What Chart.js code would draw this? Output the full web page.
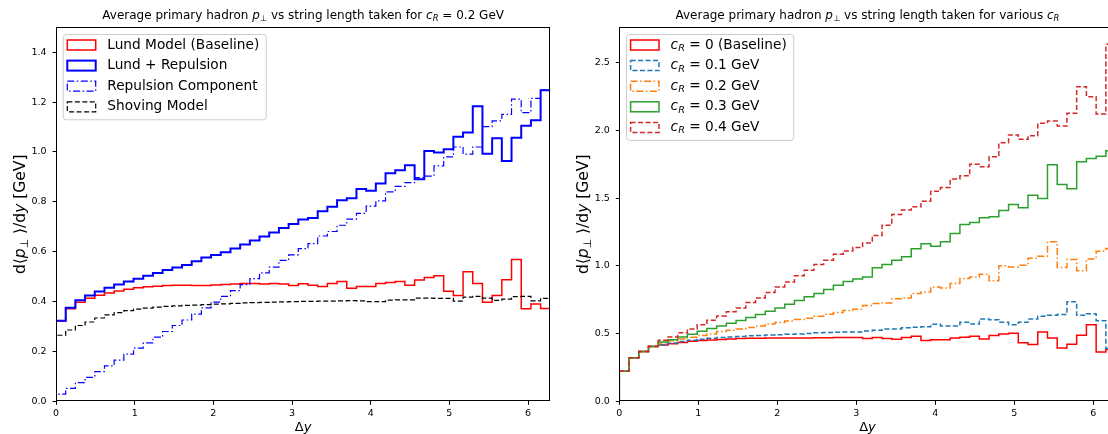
<!DOCTYPE html>
<html lang="en">
<head>
  <meta charset="utf-8">
  <title>Average primary hadron pT vs string length</title>
  <script src="https://cdn.jsdelivr.net/npm/chart.js@4.4.1/dist/chart.umd.min.js"></script>
  <style>
    html, body { margin: 0; padding: 0; overflow: hidden; background: #fff; }
    .figure { position: relative; width: 1108px; height: 434px; overflow: hidden; }
    canvas { position: absolute; top: 0; }
    #chart-left { left: 0; }
    #chart-right { left: 560px; }
  </style>
</head>
<body>
  <div class="figure">
    <canvas id="chart-left" width="560" height="434"></canvas>
    <canvas id="chart-right" width="562" height="434"></canvas>
  </div>

  <script>
    // 51 bins spanning 0 .. 2pi in Delta y
    const binCount = 51;
    const xTicks = [0, 1, 2, 3, 4, 5, 6];
    const yTicksLeft = [0, 0.2, 0.4, 0.6, 0.8, 1.0, 1.2, 1.4];
    const yTicksRight = [0, 0.5, 1.0, 1.5, 2.0, 2.5];

    // left panel: c_R = 0.2 GeV
    const labelsLeft = ['Lund Model (Baseline)', 'Lund + Repulsion', 'Repulsion Component', 'Shoving Model'];
    const lundBaseline = [
      0.322, 0.371, 0.397, 0.413, 0.425, 0.434, 0.442, 0.449, 0.455, 0.459,
      0.461, 0.464, 0.465, 0.465, 0.464, 0.464, 0.466, 0.468, 0.470, 0.472,
      0.472, 0.470, 0.472, 0.470, 0.464, 0.471, 0.465, 0.460, 0.472, 0.480,
      0.453, 0.460, 0.460, 0.472, 0.476, 0.480, 0.465, 0.486, 0.497, 0.504,
      0.441, 0.424, 0.520, 0.472, 0.397, 0.424, 0.487, 0.569, 0.371, 0.390,
      0.372
    ];
    const lundRepulsion = [
      0.323, 0.375, 0.405, 0.424, 0.440, 0.455, 0.468, 0.480, 0.492, 0.504,
      0.515, 0.527, 0.537, 0.547, 0.562, 0.577, 0.587, 0.598, 0.613, 0.629,
      0.645, 0.661, 0.677, 0.695, 0.711, 0.729, 0.735, 0.762, 0.780, 0.806,
      0.814, 0.851, 0.844, 0.874, 0.915, 0.927, 0.947, 0.891, 1.004, 0.998,
      1.011, 1.061, 1.078, 1.183, 0.993, 1.055, 0.964, 1.057, 1.105, 1.127,
      1.248
    ];
    const repulsionComponent = [
      0.029, 0.052, 0.075, 0.096, 0.119, 0.142, 0.165, 0.189, 0.213, 0.234,
      0.257, 0.280, 0.304, 0.326, 0.350, 0.375, 0.398, 0.421, 0.444, 0.468,
      0.492, 0.515, 0.538, 0.565, 0.587, 0.612, 0.632, 0.663, 0.681, 0.706,
      0.731, 0.754, 0.783, 0.804, 0.840, 0.862, 0.877, 0.897, 0.903, 0.944,
      0.980, 1.020, 0.991, 1.020, 1.102, 1.125, 1.151, 1.212, 1.158, 1.215,
      1.248
    ];
    const shovingModel = [
      0.265, 0.286, 0.304, 0.318, 0.334, 0.347, 0.356, 0.364, 0.370, 0.374,
      0.378, 0.381, 0.383, 0.385, 0.386, 0.388, 0.390, 0.391, 0.393, 0.395,
      0.396, 0.397, 0.398, 0.399, 0.400, 0.401, 0.401, 0.402, 0.402, 0.403,
      0.404, 0.403, 0.400, 0.400, 0.406, 0.407, 0.407, 0.414, 0.414, 0.413,
      0.413, 0.402, 0.418, 0.421, 0.414, 0.405, 0.410, 0.420, 0.421, 0.403,
      0.413
    ];

    // right panel: various c_R
    const labelsRight = ['$c_R$ = 0 (Baseline)', '$c_R$ = 0.1 GeV', '$c_R$ = 0.2 GeV', '$c_R$ = 0.3 GeV', '$c_R$ = 0.4 GeV'];
    const cR0 = [
      0.222, 0.322, 0.368, 0.404, 0.416, 0.425, 0.434, 0.443, 0.448, 0.453,
      0.456, 0.460, 0.463, 0.465, 0.466, 0.467, 0.467, 0.468, 0.468, 0.468,
      0.469, 0.469, 0.470, 0.470, 0.470, 0.463, 0.470, 0.463, 0.458, 0.470,
      0.480, 0.448, 0.455, 0.455, 0.468, 0.473, 0.480, 0.460, 0.485, 0.497,
      0.502, 0.433, 0.419, 0.512, 0.468, 0.394, 0.421, 0.487, 0.565, 0.364,
      0.383
    ];
    const cR01 = [
      0.222, 0.322, 0.368, 0.404, 0.416, 0.431, 0.441, 0.451, 0.458, 0.465,
      0.470, 0.475, 0.478, 0.483, 0.485, 0.490, 0.492, 0.495, 0.497, 0.500,
      0.505, 0.507, 0.510, 0.512, 0.512, 0.519, 0.524, 0.534, 0.534, 0.542,
      0.547, 0.551, 0.569, 0.556, 0.556, 0.583, 0.571, 0.608, 0.601, 0.583,
      0.564, 0.583, 0.608, 0.628, 0.635, 0.640, 0.734, 0.635, 0.647, 0.595,
      0.390
    ];
    const cR02 = [
      0.222, 0.322, 0.368, 0.404, 0.431, 0.446, 0.460, 0.473, 0.485, 0.497,
      0.515, 0.524, 0.534, 0.544, 0.556, 0.571, 0.581, 0.593, 0.603, 0.613,
      0.628, 0.643, 0.655, 0.670, 0.680, 0.707, 0.721, 0.726, 0.756, 0.763,
      0.795, 0.807, 0.844, 0.837, 0.869, 0.906, 0.918, 0.938, 0.889, 1.000,
      0.992, 1.004, 1.056, 1.071, 1.177, 0.987, 1.046, 0.963, 1.051, 1.108,
      1.128
    ];
    const cR03 = [
      0.222, 0.322, 0.368, 0.404, 0.438, 0.455, 0.475, 0.495, 0.517, 0.537,
      0.556, 0.576, 0.596, 0.618, 0.640, 0.665, 0.689, 0.716, 0.743, 0.771,
      0.795, 0.825, 0.857, 0.885, 0.903, 0.918, 0.985, 1.009, 1.041, 1.066,
      1.125, 1.162, 1.145, 1.177, 1.238, 1.305, 1.320, 1.354, 1.361, 1.408,
      1.452, 1.428, 1.521, 1.497, 1.745, 1.600, 1.568, 1.768, 1.792, 1.809,
      1.849
    ];
    const cR04 = [
      0.222, 0.322, 0.368, 0.406, 0.451, 0.475, 0.505, 0.534, 0.564, 0.598,
      0.630, 0.660, 0.689, 0.729, 0.763, 0.803, 0.844, 0.881, 0.926, 0.967,
      1.009, 1.041, 1.086, 1.110, 1.135, 1.169, 1.224, 1.300, 1.379, 1.411,
      1.435, 1.477, 1.551, 1.578, 1.640, 1.664, 1.750, 1.731, 1.805, 1.908,
      1.965, 1.933, 1.960, 2.051, 2.068, 2.031, 2.125, 2.322, 2.248, 2.120,
      2.634
    ];

    const FONT = '"DejaVu Sans", sans-serif';
    const binWidth = 2 * Math.PI / binCount;
    const binEdges = [];
    for (let i = 0; i <= binCount; i++) binEdges.push(i * binWidth);

    // outline of a step histogram: up from 0, then across every bin
    function stepPoints(values) {
      const pts = [{x: 0, y: 0}];
      values.forEach((v, i) => pts.push({x: binEdges[i], y: v}));
      pts.push({x: binEdges[binCount], y: values[values.length - 1]});
      return pts;
    }

    function histSeries(label, values, color, dash, width, i) {
      return {
        label: label,
        data: stepPoints(values),
        borderColor: color,
        backgroundColor: 'transparent',
        borderDash: dash,
        borderWidth: width,
        stepped: true,
        pointRadius: 0,
        fill: false,
        order: -i,
        borderCapStyle: 'butt',
        borderJoinStyle: 'miter'
      };
    }

    // tiny mathtext: $...$ makes letters italic, _X makes a subscript
    function richSegs(str) {
      let out = [];
      str.split('$').forEach((part, i) => {
        if (i % 2 === 0) {
          if (part) out.push({t: part});
          return;
        }
        for (let k = 0; k < part.length; k++) {
          let ch = part[k];
          if (ch === '_') {
            let s = part[++k];
            out.push({t: s, it: /[A-Za-z]/.test(s), sub: true});
          } else {
            out.push({t: ch, it: /[A-Za-z]/.test(ch)});
          }
        }
      });
      return out;
    }

    function drawRich(ctx, str, x, y, size, align) {
      let segs = richSegs(str);
      let fontOf = s => (s.it ? 'italic ' : '') + (s.sub ? size * 0.7 : size) + 'px ' + FONT;
      let total = 0;
      segs.forEach(s => {
        ctx.font = fontOf(s);
        s.w = ctx.measureText(s.t).width;
        total += s.w;
      });
      let cx = align === 'center' ? x - total / 2 : x;
      ctx.textAlign = 'left';
      ctx.textBaseline = 'middle';
      ctx.fillStyle = '#000';
      segs.forEach(s => {
        ctx.font = fontOf(s);
        ctx.fillText(s.t, cx, s.sub ? y + size * 0.25 : y);
        cx += s.w;
      });
      return total;
    }

    function measureRich(ctx, str, size) {
      let total = 0;
      richSegs(str).forEach(s => {
        ctx.font = (s.it ? 'italic ' : '') + (s.sub ? size * 0.7 : size) + 'px ' + FONT;
        total += ctx.measureText(s.t).width;
      });
      return total;
    }

    // frame, titles and a matplotlib-like legend
    const decor = {
      id: 'decor',
      afterDatasetsDraw(chart, args, o) {
        const ctx = chart.ctx;
        const a = chart.chartArea;
        ctx.save();

        // spines
        ctx.strokeStyle = '#000';
        ctx.lineWidth = 1;
        ctx.setLineDash([]);
        let l = Math.round(a.left) + 0.5, t = Math.round(a.top) + 0.5;
        let r = Math.round(a.right) - 0.5, b = Math.round(a.bottom) - 0.5;
        ctx.strokeRect(l, t, r - l, b - t);

        // titles
        let midX = (a.left + a.right) / 2;
        drawRich(ctx, o.title, midX, a.top - 11, 12, 'center');
        drawRich(ctx, o.xLabel, midX, a.bottom + 26, 13, 'center');
        ctx.save();
        ctx.translate(a.left - 35, (a.top + a.bottom) / 2);
        ctx.rotate(-Math.PI / 2);
        drawRich(ctx, o.yLabel, 0, 0, 15.5, 'center');
        ctx.restore();

        // legend
        const ds = chart.data.datasets;
        const fs = 13.7, rowH = 20.6;
        let textW = 0;
        ds.forEach(d => { textW = Math.max(textW, measureRich(ctx, d.label, fs)); });
        let bx = a.left + 6.7, by = a.top + 6.7;
        let bw = 44.6 + textW + 6.5;
        let firstRow = a.top + 17.7;
        let bh = (firstRow - by) + rowH * (ds.length - 1) + 12.5;
        ctx.beginPath();
        ctx.roundRect(bx + 0.5, by + 0.5, bw, bh, 3);
        ctx.fillStyle = 'rgba(255,255,255,0.8)';
        ctx.fill();
        ctx.strokeStyle = '#cccccc';
        ctx.lineWidth = 1;
        ctx.stroke();
        ds.forEach((d, i) => {
          let cy = firstRow + i * rowH;
          ctx.strokeStyle = d.borderColor;
          ctx.lineWidth = d.borderWidth;
          ctx.setLineDash(d.borderDash);
          ctx.strokeRect(bx + 4.6, cy - 5, 28.4, 10);
          ctx.setLineDash([]);
          drawRich(ctx, d.label, bx + 44.6, cy, fs, 'left');
        });
        ctx.restore();
      }
    };

    function axisGrid() {
      return { drawOnChartArea: false, drawTicks: true, tickLength: 3.5, tickWidth: 1, tickColor: '#000' };
    }

    function makeChart(id, datasets, cfg) {
      return new Chart(document.getElementById(id), {
        type: 'line',
        data: { datasets: datasets },
        options: {
          responsive: false,
          animation: false,
          events: [],
          layout: { padding: { top: 27.3, right: cfg.padRight, bottom: 0, left: 0 } },
          scales: {
            x: {
              type: 'linear',
              min: 0,
              max: 2 * Math.PI,
              afterFit: s => { s.height = 32.7; },
              afterBuildTicks: s => { s.ticks = xTicks.map(v => ({value: v})); },
              grid: axisGrid(),
              border: { display: false },
              ticks: { color: '#000', padding: 3, autoSkip: false, maxRotation: 0,
                       font: { family: FONT, size: 9.5 }, callback: v => String(v) }
            },
            y: {
              type: 'linear',
              min: 0,
              max: cfg.yMax,
              afterFit: s => { s.width = cfg.yAxisWidth; },
              afterBuildTicks: s => { s.ticks = cfg.yTicks.map(v => ({value: v})); },
              grid: axisGrid(),
              border: { display: false },
              ticks: { color: '#000', padding: 6, autoSkip: false,
                       font: { family: FONT, size: 9.5 }, callback: v => v.toFixed(1) }
            }
          },
          plugins: {
            legend: { display: false },
            tooltip: { enabled: false },
            title: { display: false },
            decor: cfg.decor
          }
        },
        plugins: [decor]
      });
    }

    makeChart('chart-left', [
      histSeries(labelsLeft[0], lundBaseline, '#ff0000', [], 1.5, 0),
      histSeries(labelsLeft[1], lundRepulsion, '#0000ff', [], 2, 1),
      histSeries(labelsLeft[2], repulsionComponent, '#0000ff', [7, 2.5, 1.5, 2.5], 1.2, 2),
      histSeries(labelsLeft[3], shovingModel, '#000000', [5, 2.5], 1.2, 3)
    ], {
      padRight: 9.7,
      yAxisWidth: 56,
      yMax: 1.5,
      yTicks: yTicksLeft,
      decor: {
        title: 'Average primary hadron $p_⊥$ vs string length taken for $c_R = 0.2$ GeV',
        xLabel: '$Δy$',
        yLabel: 'd⟨$p_⊥$ ⟩/d$y$ [GeV]'
      }
    });

    makeChart('chart-right', [
      histSeries(labelsRight[0], cR0, '#ff0000', [], 1.5, 0),
      histSeries(labelsRight[1], cR01, '#1f77b4', [5, 2.5], 1.5, 1),
      histSeries(labelsRight[2], cR02, '#ff7f0e', [7, 2.5, 1.5, 2.5], 1.5, 2),
      histSeries(labelsRight[3], cR03, '#2ca02c', [], 1.5, 3),
      histSeries(labelsRight[4], cR04, '#d62728', [5, 2.5], 1.5, 4)
    ], {
      padRight: 6.4,
      yAxisWidth: 59.3,
      yMax: 2.76,
      yTicks: yTicksRight,
      decor: {
        title: 'Average primary hadron $p_⊥$ vs string length taken for various $c_R$',
        xLabel: '$Δy$',
        yLabel: 'd⟨$p_⊥$ ⟩/d$y$ [GeV]'
      }
    });
  </script>
</body>
</html>
